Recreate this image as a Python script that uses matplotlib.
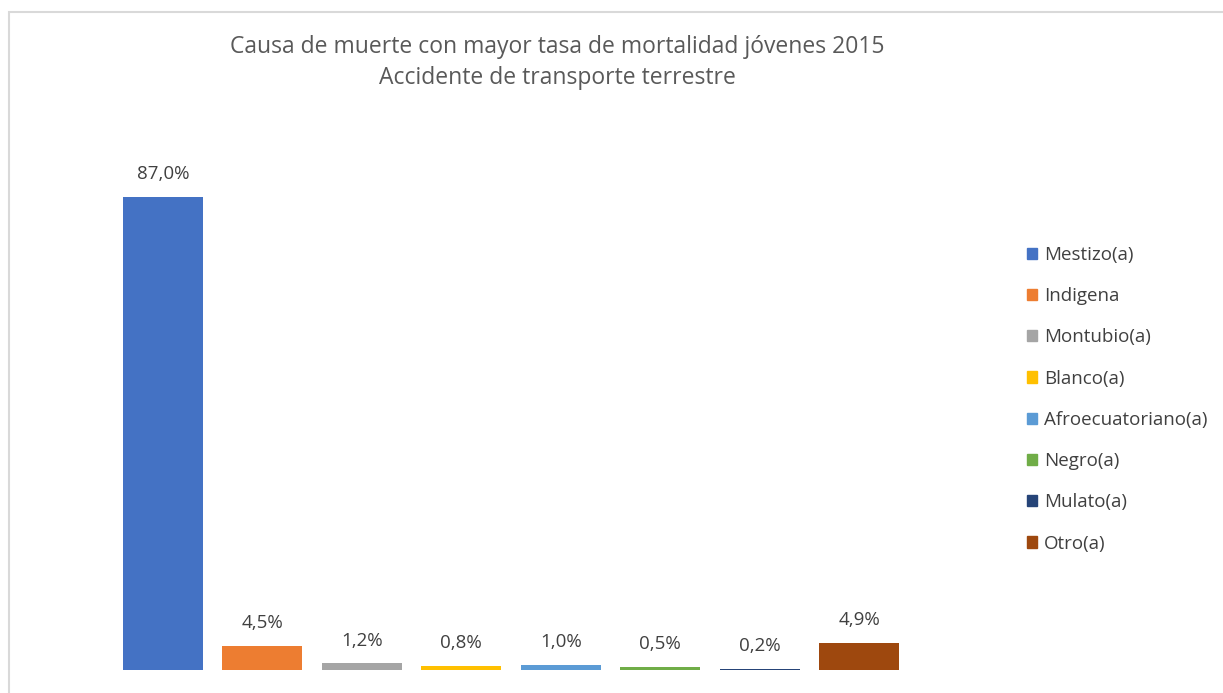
import matplotlib.pyplot as plt
from matplotlib.patches import Rectangle

# Data
categories = ['Mestizo(a)', 'Indigena', 'Montubio(a)', 'Blanco(a)',
              'Afroecuatoriano(a)', 'Negro(a)', 'Mulato(a)', 'Otro(a)']
values = [87.0, 4.5, 1.2, 0.8, 1.0, 0.5, 0.2, 4.9]
colors = ['#4472C4', '#ED7D31', '#A5A5A5', '#FFC000',
          '#5B9BD5', '#70AD47', '#264478', '#9E480E']
title_lines = ['Causa de muerte con mayor tasa de mortalidad jóvenes 2015',
               'Accidente de transporte terrestre']

plt.rcParams['font.family'] = ['Open Sans', 'DejaVu Sans']
W, H = 1223, 693
fig = plt.figure(figsize=(W / 100, H / 100), dpi=100)

# chart border (light grey frame, clipped on right/bottom)
fig.patches.append(Rectangle((9 / W, -0.05), 1.1, (H - 12) / H + 0.05,
                             transform=fig.transFigure, fill=False,
                             edgecolor='#D9D9D9', linewidth=1.5))

ax = fig.add_axes([113 / W, (H - 670) / H, 796 / W, 544 / H])
x = range(len(categories))
bars = ax.bar(x, values, width=0.8, color=colors, label=categories)
ax.set_ylim(0, 100)
ax.set_xlim(-0.5, len(categories) - 0.5)
ax.axis('off')

for b, v in zip(bars, values):
    ax.annotate(f'{v:.1f}%'.replace('.', ','),
                (b.get_x() + b.get_width() / 2, v),
                xytext=(0, 10), textcoords='offset points',
                ha='center', va='bottom', fontsize=13.5, color='#404040')

fig.text(557 / W, (H - 47) / H, title_lines[0], ha='center', va='center',
         fontsize=16.5, color='#595959')
fig.text(557 / W, (H - 78) / H, title_lines[1], ha='center', va='center',
         fontsize=16.5, color='#595959')

handles = [Rectangle((0, 0), 1, 1, color=c) for c in colors]
fig.legend(handles, categories, loc='upper left',
           bbox_to_anchor=(1010 / W, (H - 229) / H), frameon=False,
           fontsize=13.5, labelcolor='#404040', handlelength=0.55,
           handleheight=0.55, handletextpad=0.35, labelspacing=1.24)

fig.savefig('out.png', dpi=100)
